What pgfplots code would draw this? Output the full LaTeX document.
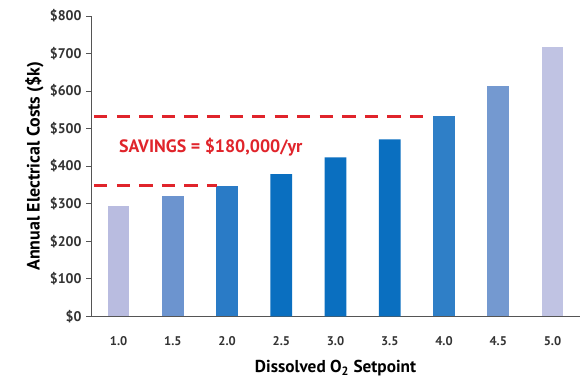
\documentclass[border=0pt]{standalone}
\usepackage{pgfplots}
\pgfplotsset{compat=1.18}
\usepackage{fontspec}
\setmainfont{PT Sans}
\definecolor{c1}{HTML}{B9BCE0}
\definecolor{c2}{HTML}{6C94CF}
\definecolor{c3}{HTML}{2A7BC6}
\definecolor{c4}{HTML}{0A6FC0}
\definecolor{c5}{HTML}{2F7FC7}
\definecolor{c6}{HTML}{7499D0}
\definecolor{c7}{HTML}{C0C3E3}
\definecolor{sred}{HTML}{E0242B}
\definecolor{axgray}{HTML}{555555}
\begin{document}
\begin{tikzpicture}
\begin{axis}[
  at={(0,0)}, anchor=south west,
  scale only axis, width=368pt, height=226.5pt,
  xmin=-0.5, xmax=8.5, ymin=0, ymax=800,
  axis x line*=bottom, axis y line*=left,
  axis line style={axgray, line width=0.9pt},
  xtick={0,...,8},
  xticklabels={1.0,1.5,2.0,2.5,3.0,3.5,4.0,4.5,5.0},
  extra x ticks={-0.5,0.5,...,8.5},
  extra x tick labels={},
  extra x tick style={major tick length=4pt, tick style={axgray, line width=0.6pt}},
  xtick style={draw=none},
  ytick={0,100,...,800},
  yticklabel={\$\pgfmathprintnumber{\tick}},
  /pgf/number format/assume math mode=true,
  ytick style={axgray, line width=0.6pt},
  tick align=outside, major tick length=4pt,
  yticklabel style={font=\bfseries\fontsize{10.5}{12}\selectfont, text=black!80},
  xticklabel style={font=\bfseries\fontsize{9.5}{11}\selectfont, text=black!80, yshift=-8pt},
  xlabel={\textbf{Dissolved O\textsubscript{2} Setpoint}},
  ylabel={\textbf{Annual Electrical Costs (\$k)}},
  xlabel style={font=\fontsize{13}{15}\selectfont, yshift=4pt},
  ylabel style={font=\fontsize{13.5}{15}\selectfont, yshift=-2pt},
  clip=false,
]
\addplot[ybar, bar width=0.4, fill=c1, draw=none] coordinates {(0,294)};
\addplot[ybar, bar width=0.4, fill=c2, draw=none] coordinates {(1,320)};
\addplot[ybar, bar width=0.4, fill=c3, draw=none] coordinates {(2,348)};
\addplot[ybar, bar width=0.4, fill=c4, draw=none] coordinates {(3,379) (4,423) (5,471)};
\addplot[ybar, bar width=0.4, fill=c5, draw=none] coordinates {(6,533)};
\addplot[ybar, bar width=0.4, fill=c6, draw=none] coordinates {(7,614)};
\addplot[ybar, bar width=0.4, fill=c7, draw=none] coordinates {(8,718)};
\addplot[sred, line width=2.3pt, dash pattern=on 10pt off 7pt] coordinates {(-0.45,533) (5.72,533)};
\addplot[sred, line width=2.3pt, dash pattern=on 10pt off 7pt] coordinates {(-0.45,348) (1.82,348)};
\node[text=sred, font=\bfseries\fontsize{13.5}{15}\selectfont] at (axis cs:1.7,450) {SAVINGS = \$180,000/yr};
\end{axis}
\useasboundingbox (-69pt,-41.25pt) rectangle (370pt,238.5pt);
\end{tikzpicture}
\end{document}
